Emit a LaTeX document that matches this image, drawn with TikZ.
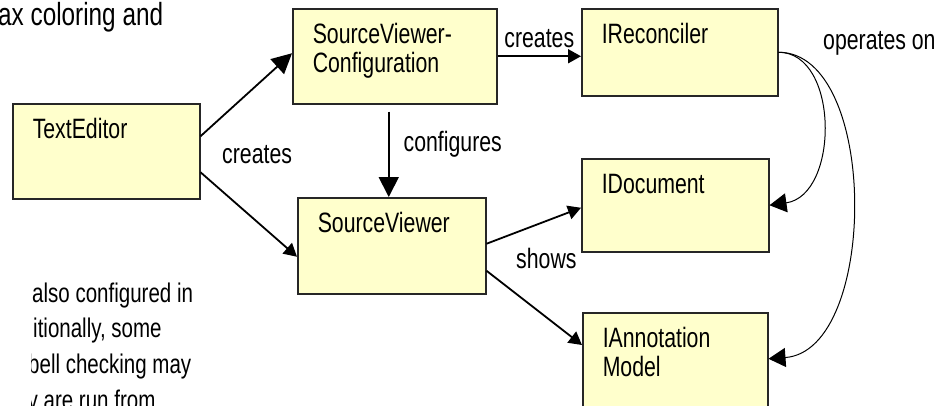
\documentclass[tikz,border=0pt]{standalone}
\usepackage{fontspec}
\setmainfont{Liberation Sans}[FakeStretch=0.76]
\usetikzlibrary{arrows.meta}

\definecolor{notepad}{RGB}{255,255,204}

\tikzset{
  cls/.style={draw=black!85, line width=1.5pt, fill=notepad, anchor=north west,
    align=left, inner xsep=20pt, inner ysep=0pt, text height=35pt},
  lbl/.style={inner sep=0pt},
  link/.style={line width=1.8pt},
  bigtip/.style={-{Triangle[length=20pt,width=20pt]}},
  ops/.style={line width=1pt, -{Triangle[length=17pt,width=19pt]}},
}

\begin{document}
\begin{tikzpicture}[x=1pt, y=-1pt, >={Triangle[length=13pt,width=14pt]},
    font=\fontsize{28}{29}\selectfont]
  \clip (0,0) rectangle (942,405);
  %\draw [help lines, step=50] (0,0) grid (942,405);

  % text around the figure
  \node [lbl, anchor=base west, font=\fontsize{32}{36}\selectfont] (intro) at (-2,25) {ax coloring and};
  \begin{scope}[font=\fontsize{27}{36}\selectfont]
    \clip (31,260) rectangle (260,405);
    \node [lbl, anchor=base west] (note1) at (32,302) {also configured in};
    \node [lbl, anchor=base west] (note2) at (33,337) {itionally, some};
    \node [lbl, anchor=base west] (note3) at (28,373) {bell checking may};
    \node [lbl, anchor=base west] (note4) at (27.5,409) {y are run from};
  \end{scope}

  % classes
  \node [cls, text width=147pt, text depth=60pt] (te) at (12,103) {TextEditor};
  \node [cls, text width=164pt, text depth=60pt] (svc) at (292,8) {SourceViewer-\\Configuration};
  \node [cls, text width=148pt, text depth=61pt] (sv) at (297,197) {SourceViewer};
  \node [cls, text width=156pt, text depth=52pt] (irc) at (581,8) {IReconciler};
  \node [cls, text width=147pt, text depth=58pt] (idoc) at (581,158) {IDocument};
  \node [cls, text width=145pt, text depth=61pt] (iam) at (582,312) {IAnnotation\\Model};

  % associations
  \draw [link, bigtip] ([yshift=15pt]te.east) -- ([yshift=3pt]svc.west);
  \draw [link, ->] ([yshift=-21pt]te.east) -- ([yshift=-11pt]sv.west);
  \node [lbl, anchor=base west] (lmade) at (222,163) {creates};
  \draw [link, ->] (svc.east) -- (svc.east -| irc.west)
    node [lbl, midway, above=8pt] (lcreates) {creates};
  \draw [link, bigtip] ([xshift=-6pt, yshift=-7pt]svc.south) -- ([xshift=-6pt]svc.south |- sv.north)
    node [lbl, pos=0.38, right=14pt] (lconf) {configures};
  \draw [link, ->] ([yshift=2pt]sv.east) -- ([yshift=-2.5pt]idoc.west);
  \draw [link, ->] ([yshift=-25pt]sv.east) -- ([yshift=-33pt]iam.north west);
  \node [lbl, anchor=base west] (lshows) at (516,268) {shows};

  % reconciler works on both models
  \draw [ops] (irc.east) .. controls +(61,0) and +(70,-10) .. (idoc.east);
  \draw [ops] (irc.east) .. controls +(101,0) and +(110,-8) .. ([yshift=2pt]iam.east);
  \node [lbl, anchor=base west] (lops) at (823,49) {operates on};
\end{tikzpicture}
\end{document}
